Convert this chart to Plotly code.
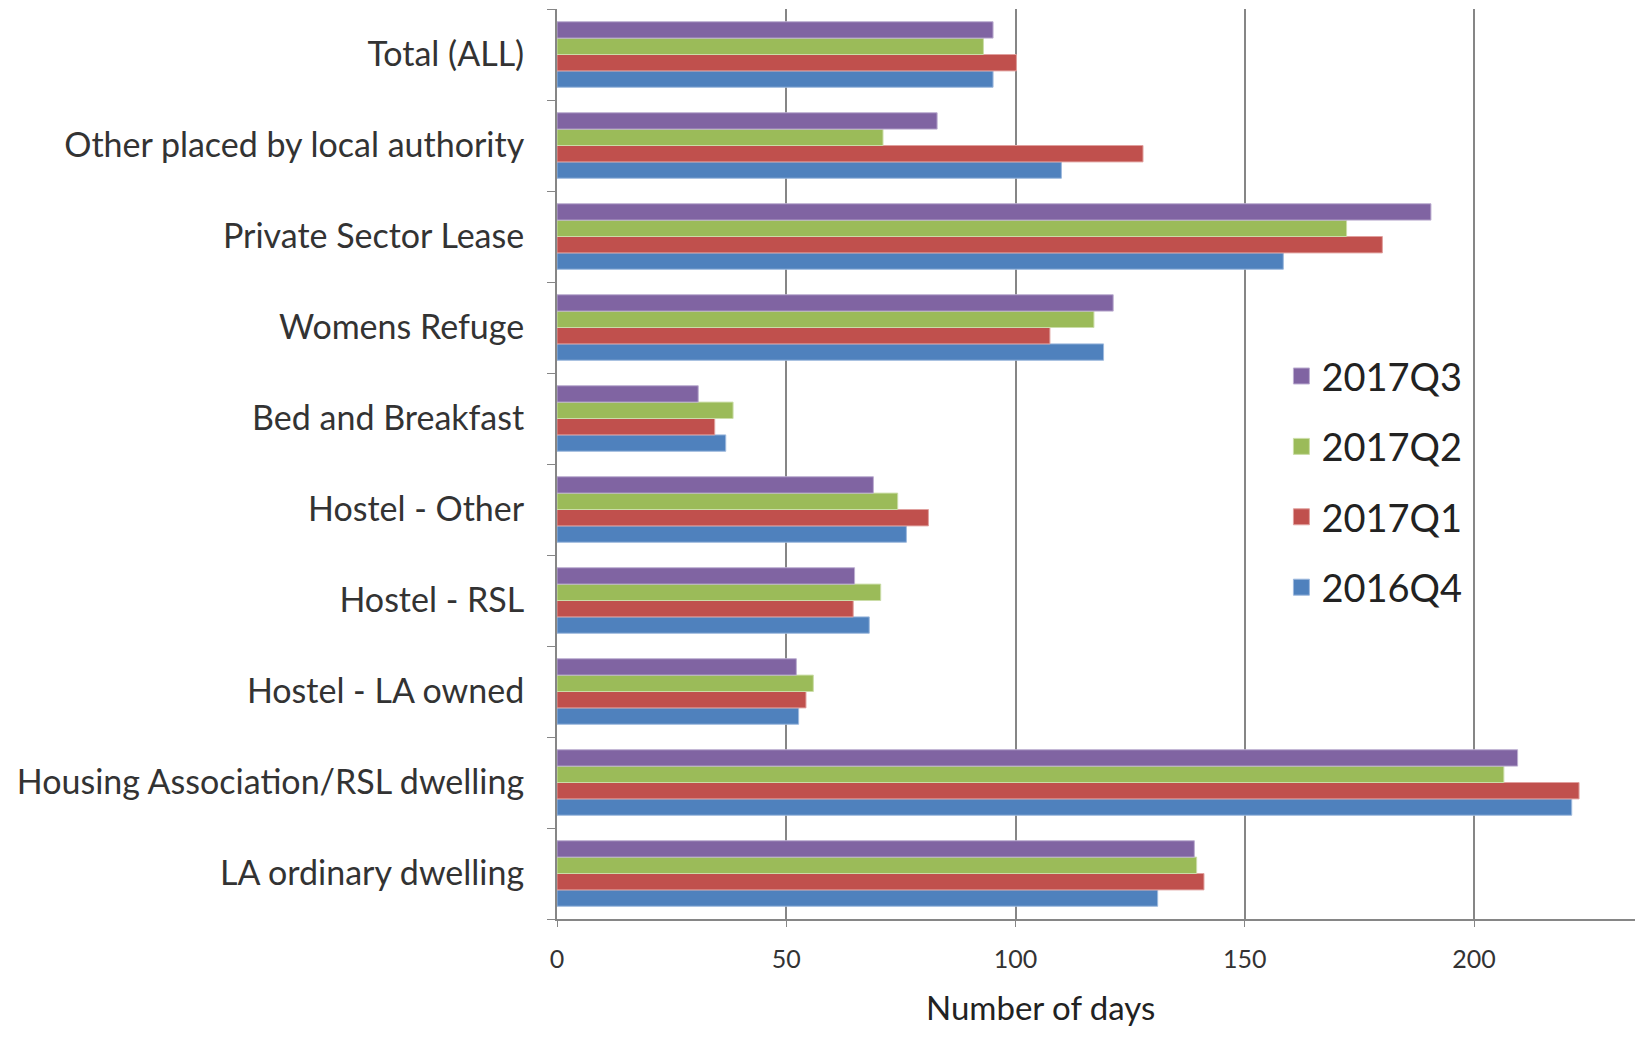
import plotly.graph_objects as go

# categories listed bottom -> top (plotly draws the first category at the bottom)
categories = [
    "LA ordinary dwelling",
    "Housing Association/RSL dwelling",
    "Hostel - LA owned",
    "Hostel - RSL",
    "Hostel - Other",
    "Bed and Breakfast",
    "Womens Refuge",
    "Private Sector Lease",
    "Other placed by local authority",
    "Total (ALL)",
]

q4_2016 = [131.0, 221.3, 52.7, 68.1, 76.2, 36.8, 119.2, 158.4, 110.0, 95.1]
q1_2017 = [141.1, 222.9, 54.3, 64.6, 81.0, 34.4, 107.5, 180.0, 127.8, 100.2]
q2_2017 = [139.5, 206.5, 55.9, 70.6, 74.3, 38.4, 117.1, 172.2, 71.1, 93.0]
q3_2017 = [139.0, 209.5, 52.2, 64.9, 69.0, 30.8, 121.3, 190.6, 82.9, 95.1]

# name, values, fill, edge, legend position (top first)
series = [
    ("2016Q4", q4_2016, "#4F81BD", "#9DB9DD", 4),
    ("2017Q1", q1_2017, "#C0504D", "#E0A09E", 3),
    ("2017Q2", q2_2017, "#9BBB59", "#CBDDA8", 2),
    ("2017Q3", q3_2017, "#8064A2", "#BCAED0", 1),
]

FONT = "Lato, 'Open Sans', sans-serif"
GRID = "#868686"

# the page body has an 8px margin, so the figure sits 8px in from the corner
W, H = 1627, 1022
L, T, B = 549, 1, 111

fig = go.Figure()
for name, vals, color, edge, rank in series:
    fig.add_trace(go.Bar(
        y=categories,
        x=vals,
        name=name,
        orientation="h",
        legendgroup=name,
        showlegend=False,
        marker=dict(color=color, line=dict(color=edge, width=1)),
    ))
    # legend-only entry so the key square can be drawn larger than the bar icon
    fig.add_trace(go.Scatter(
        x=[None],
        y=[None],
        mode="markers",
        name=name,
        legendgroup=name,
        legendrank=rank,
        marker=dict(symbol="square", size=16, color=color,
                    line=dict(color=edge, width=1)),
    ))

plot_h = H - T - B
plot_w = W - L

fig.update_layout(
    barmode="group",
    bargap=0.28,
    bargroupgap=0,
    width=W,
    height=H,
    paper_bgcolor="white",
    plot_bgcolor="white",
    margin=dict(l=L, r=0, t=T, b=B),
    font=dict(family=FONT, color="#333333"),
    legend=dict(
        traceorder="grouped",
        tracegroupgap=18,
        itemsizing="trace",
        x=0.672,
        y=0.631,
        xanchor="left",
        yanchor="top",
        font=dict(size=38, color="#222222"),
        bgcolor="rgba(0,0,0,0)",
    ),
    xaxis=dict(
        range=[0, 235.1],
        tickvals=[0, 50, 100, 150, 200],
        showgrid=True,
        gridcolor=GRID,
        gridwidth=1.5,
        zeroline=False,
        showline=True,
        linecolor=GRID,
        linewidth=2,
        ticks="outside",
        ticklen=6,
        tickcolor=GRID,
        ticklabelstandoff=11,
        tickfont=dict(size=25, color="#333333"),
    ),
    yaxis=dict(
        showgrid=False,
        zeroline=False,
        showline=True,
        linecolor=GRID,
        linewidth=2,
        ticks="outside",
        tickson="boundaries",
        ticklen=8,
        tickcolor=GRID,
        tickfont=dict(size=34, color="#333333"),
        ticklabelstandoff=24,
    ),
    annotations=[
        dict(
            text="Number of days",
            xref="x domain",
            yref="paper",
            x=(1040 - 8 - L) / plot_w,
            y=-(B - 1) / plot_h,
            xanchor="center",
            yanchor="bottom",
            showarrow=False,
            font=dict(size=33, color="#222222"),
        )
    ],
)

fig.write_html("out.html")
